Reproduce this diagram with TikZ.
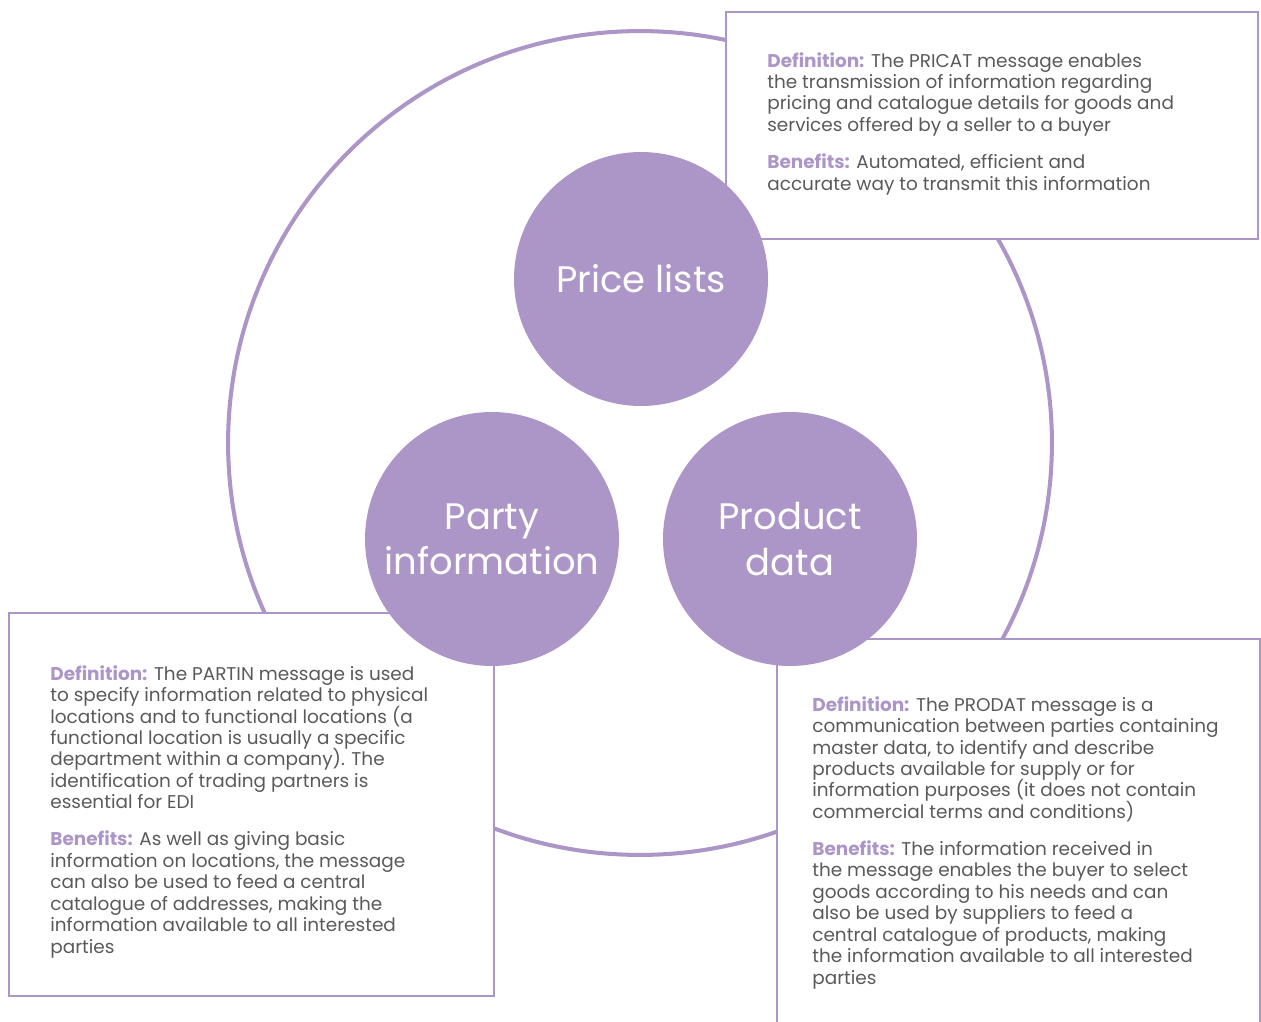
\documentclass[tikz,border=0pt]{standalone}
\usepackage{fontspec}
\setmainfont{Poppins}
\usepackage{xcolor}
\definecolor{lilac}{HTML}{AC95C7}
\definecolor{textgrey}{HTML}{5A5A5C}
\newcommand{\defhead}[1]{\textcolor{lilac}{\textbf{#1}}}
\newcommand{\tightlines}{\setlength{\lineskiplimit}{-100pt}\setlength{\lineskip}{0pt}}

\begin{document}
\begin{tikzpicture}[x=0.02cm,y=-0.02cm,
    bubble/.style={circle,fill=lilac,minimum size=5.08cm,inner sep=0pt,text=white,align=center,font=\fontsize{21}{25.8}\selectfont\tightlines},
    infobox/.style={draw=lilac,line width=1.4pt,fill=white,anchor=north west,inner sep=0pt},
    infotext/.style={anchor=north west,inner sep=0pt,align=left,text=textgrey,font=\fontsize{10.5}{12.2}\selectfont\tightlines}]

    \useasboundingbox (0,0) rectangle (1261,1021);
    \clip (0,0) rectangle (1261,1021);

    % big ring behind everything
    \draw[lilac,line width=2.3pt] (640,443) circle [radius=8.24cm];

    % boxes
    \node[infobox,minimum width=10.64cm,minimum height=4.54cm] (pricebox) at (725,11) {};
    \node[infobox,minimum width=9.7cm,minimum height=7.66cm] (partybox) at (8,612) {};
    \node[infobox,minimum width=9.66cm,minimum height=8cm] (productbox) at (776,638) {};

    \node[infotext] (pricetext) at ([shift={(42,41)}]pricebox.north west)
        {\defhead{Definition:} The PRICAT message enables\\
         the transmission of information regarding\\
         pricing and catalogue details for goods and\\
         services offered by a seller to a buyer\\[9pt]
         \defhead{Benefits:} Automated, efficient and\\
         accurate way to transmit this information};

    \node[infotext] (partytext) at ([shift={(42,53)}]partybox.north west)
        {\defhead{Definition:} The PARTIN message is used\\
         to specify information related to physical\\
         locations and to functional locations (a\\
         functional location is usually a specific\\
         department within a company). The\\
         identification of trading partners is\\
         essential for EDI\\[9pt]
         \defhead{Benefits:} As well as giving basic\\
         information on locations, the message\\
         can also be used to feed a central\\
         catalogue of addresses, making the\\
         information available to all interested\\
         parties};

    \node[infotext] (producttext) at ([shift={(36,58)}]productbox.north west)
        {\defhead{Definition:} The PRODAT message is a\\
         communication between parties containing\\
         master data, to identify and describe\\
         products available for supply or for\\
         information purposes (it does not contain\\
         commercial terms and conditions)\\[9pt]
         \defhead{Benefits:} The information received in\\
         the message enables the buyer to select\\
         goods according to his needs and can\\
         also be used by suppliers to feed a\\
         central catalogue of products, making\\
         the information available to all interested\\
         parties};

    % the three bubbles
    \node[bubble] (price) at (641,279) {Price lists};
    \node[bubble] (party) at (492,539) {Party\\information};
    \node[bubble] (product) at (790,539) {Product\\data};

\end{tikzpicture}
\end{document}
